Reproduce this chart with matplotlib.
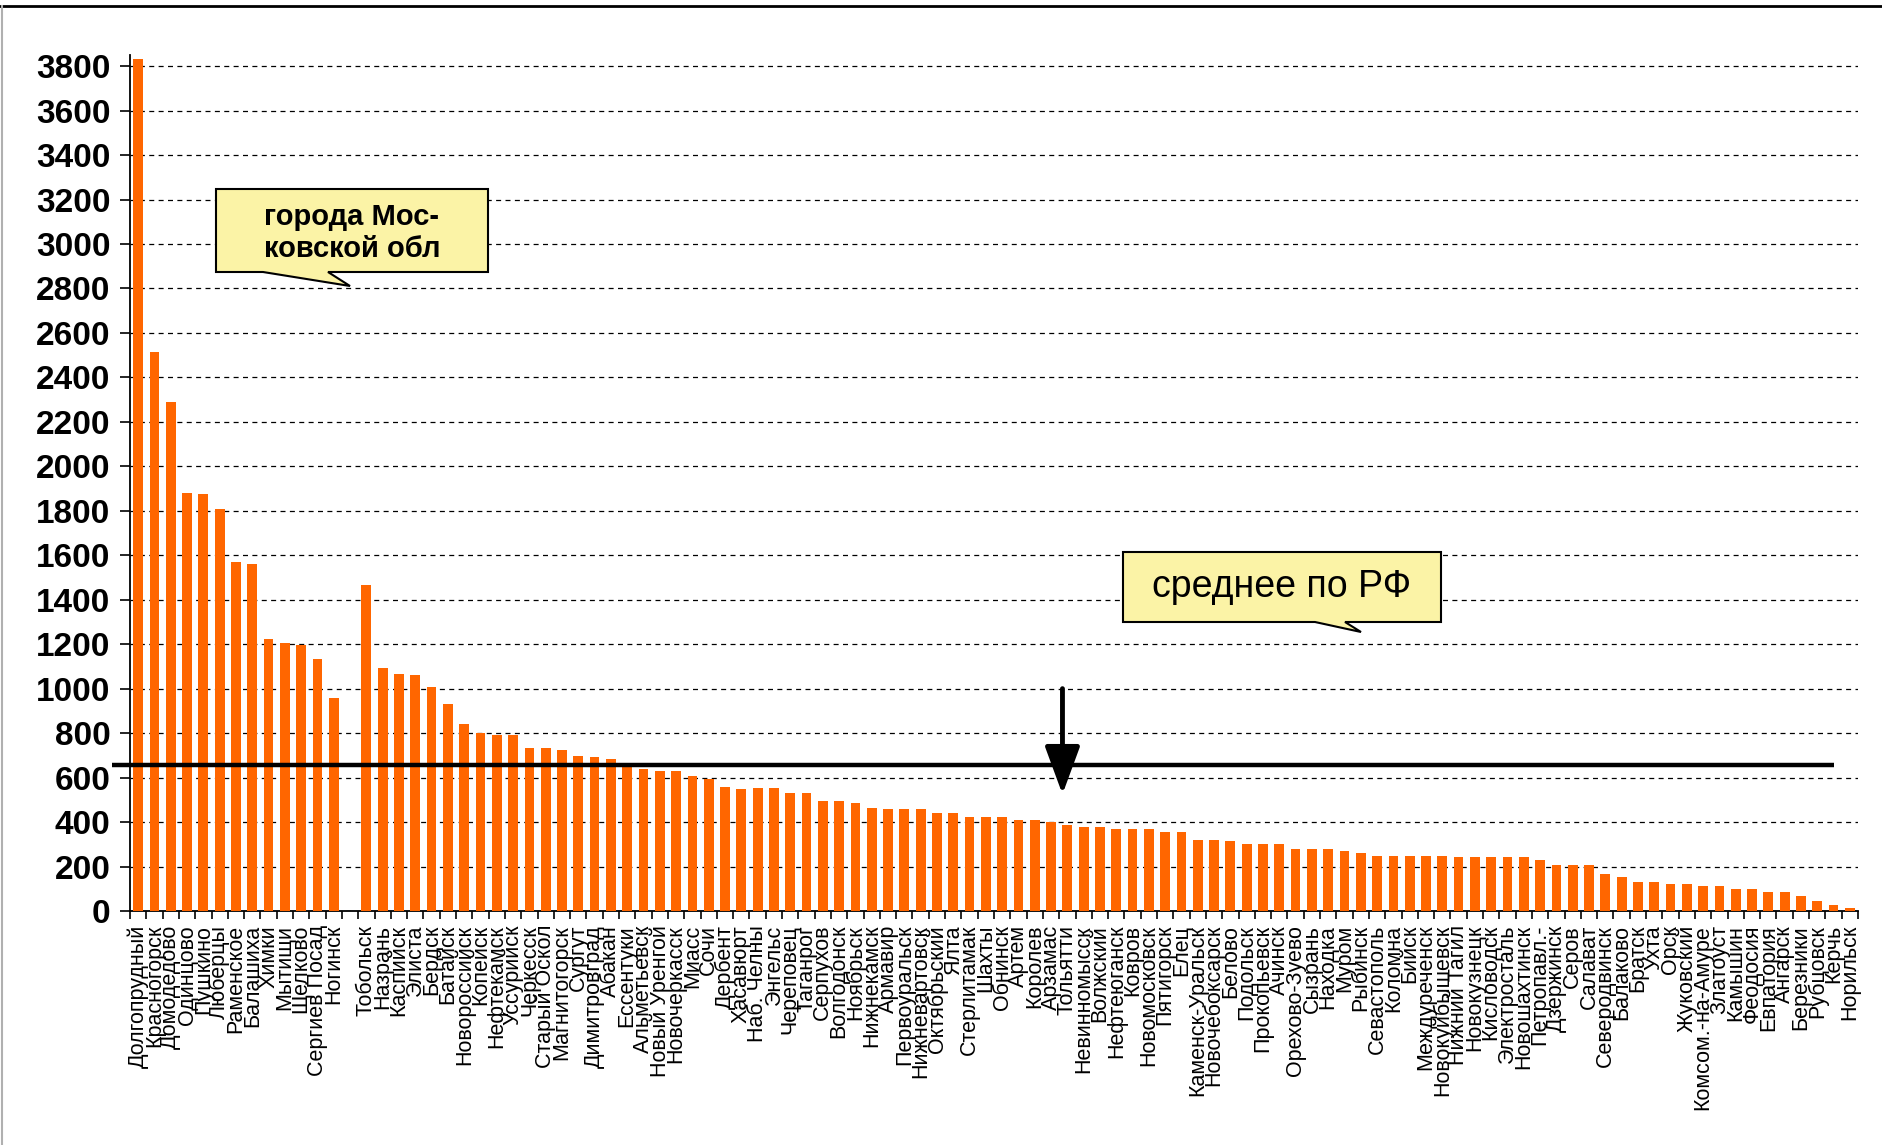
import matplotlib
matplotlib.use('Agg')
import matplotlib.pyplot as plt
from matplotlib.patches import Polygon
from matplotlib.lines import Line2D
import matplotlib.transforms as mtransforms
import numpy as np

plt.rcParams['font.family'] = ['Liberation Sans', 'DejaVu Sans']

cities = [
    "Долгопрудный", "Красногорск", "Домодедово", "Одинцово", "Пушкино", "Люберцы",
    "Раменское", "Балашиха", "Химки", "Мытищи", "Щелково", "Сергиев Посад", "Ногинск",
    "",
    "Тобольск", "Назрань", "Каспийск", "Элиста", "Бердск", "Батайск", "Новороссийск",
    "Копейск", "Нефтекамск", "Уссурийск", "Черкесск", "Старый Оскол", "Магнитогорск",
    "Сургут", "Димитровград", "Абакан", "Ессентуки", "Альметьевск", "Новый Уренгой",
    "Новочеркасск", "Миасс", "Сочи", "Дербент", "Хасавюрт", "Наб. Челны", "Энгельс",
    "Череповец", "Таганрог", "Серпухов", "Волгодонск", "Ноябрьск", "Нижнекамск",
    "Армавир", "Первоуральск", "Нижневартовск", "Октябрьский", "Ялта", "Стерлитамак",
    "Шахты", "Обнинск", "Артем", "Королев", "Арзамас", "Тольятти", "Невинномысск",
    "Волжский", "Нефтеюганск", "Ковров", "Новомосковск", "Пятигорск", "Елец",
    "Каменск-Уральск", "Новочебоксарск", "Белово", "Подольск", "Прокопьевск", "Ачинск",
    "Орехово-Зуево", "Сызрань", "Находка", "Муром", "Рыбинск", "Севастополь", "Коломна",
    "Бийск", "Междуреченск", "Новокуйбышевск", "Нижний Тагил", "Новокузнецк",
    "Кисловодск", "Электросталь", "Новошахтинск", "Петропавл.-", "Дзержинск", "Серов",
    "Салават", "Северодвинск", "Балаково", "Братск", "Ухта", "Орск", "Жуковский",
    "Комсом.-на-Амуре", "Златоуст", "Камышин", "Феодосия", "Евпатория", "Ангарск",
    "Березники", "Рубцовск", "Керчь", "Норильск",
]

values = [
    3830, 2515, 2290, 1882, 1875, 1808, 1568, 1562, 1225, 1207, 1195, 1132, 959,
    0,
    1465, 1092, 1066, 1061, 1008, 933, 843, 802, 790, 790, 734, 734, 722,
    695, 692, 682, 650, 640, 628, 628, 605, 594, 557, 550, 551, 552,
    531, 531, 496, 496, 484, 463, 457, 457, 457, 442, 442, 424,
    424, 424, 409, 409, 402, 388, 376, 376, 368, 368, 368, 356, 356,
    320, 320, 314, 301, 301, 301, 281, 281, 281, 268, 260, 248, 248,
    248, 248, 248, 241, 241, 241, 241, 241, 229, 208, 208,
    208, 168, 153, 131, 131, 120, 120, 113, 113, 101, 101, 86, 86,
    66, 45, 26, 12,
]

y_ticks = list(range(0, 3801, 200))
average_rf = 657
arrow_category = "Тольятти"
callout_moscow = "города Мос-\nковской обл"
callout_avg = "среднее по РФ"

W, H = 1883, 1145
fig = plt.figure(figsize=(W / 100, H / 100), dpi=100)
fig.patch.set_facecolor('white')

ax = fig.add_axes([130 / W, 1 - 911 / H, (1858 - 130) / W, (911 - 55) / H])
x = np.arange(len(cities))
ax.bar(x, values, width=0.6, color='#FF6600', zorder=3)

ax.set_xlim(-0.5, len(cities) - 0.5)
ax.set_ylim(0, 3850)
ax.set_yticks(y_ticks)
ax.set_yticklabels([str(v) for v in y_ticks], fontsize=24, fontweight='bold')
ax.yaxis.grid(True, linestyle=(0, (4, 3.5)), linewidth=0.9, color='black')
ax.set_axisbelow(True)

ax.set_xticks(x)
ax.set_xticklabels(cities, rotation=90, fontsize=15.5, va='top', ha='center')
ax.tick_params(axis='x', which='major', length=0, pad=10)
ax.set_xticks(np.arange(-0.5, len(cities)), minor=True)
ax.tick_params(axis='x', which='minor', length=6, width=1.2, direction='out', color='black')
ax.tick_params(axis='y', length=7, width=1.2, pad=7, color='black')
for s in ['top', 'right']:
    ax.spines[s].set_visible(False)
for s in ['left', 'bottom']:
    ax.spines[s].set_linewidth(1.3)
    ax.spines[s].set_color('black')

# average line
ax.plot([-1.6, len(cities) - 2.0], [average_rf, average_rf], color='black',
        lw=3.2, clip_on=False, zorder=5, solid_capstyle='butt')

# arrow
ai = cities.index(arrow_category) - 0.3
ax.annotate('', xy=(ai, 525), xytext=(ai, 1000),
            arrowprops=dict(arrowstyle='-|>,head_length=0.98,head_width=0.36',
                            mutation_scale=30, lw=3.5, color='black',
                            shrinkA=0, shrinkB=0), zorder=6)

# pixel-layout transform for callouts
pix = mtransforms.Affine2D().scale(1 / W, -1 / H).translate(0, 1) + fig.transFigure

c1 = [(216, 189), (488, 189), (488, 272), (328, 272), (350, 286), (263, 272), (216, 272)]
fig.add_artist(Polygon(c1, closed=True, facecolor='#FBF3A6', edgecolor='black',
                       lw=1.5, transform=pix, zorder=10))
fig.text(352, 233, callout_moscow, transform=pix, ha='center', va='center',
         fontsize=21, fontweight='bold', linespacing=1.18, zorder=11)

c2 = [(1123, 552), (1441, 552), (1441, 622), (1345, 622), (1361, 632), (1315, 622), (1123, 622)]
fig.add_artist(Polygon(c2, closed=True, facecolor='#FBF3A6', edgecolor='black',
                       lw=1.5, transform=pix, zorder=10))
fig.text(1282, 587, callout_avg, transform=pix, ha='center', va='center',
         fontsize=27, zorder=11)

# frame lines
fig.add_artist(Line2D([0, 1], [1 - 6 / H, 1 - 6 / H], transform=fig.transFigure,
                      color='black', lw=2))
fig.add_artist(Line2D([2 / W, 2 / W], [0, 1 - 6 / H], transform=fig.transFigure,
                      color='#b0b0b0', lw=1.5))

fig.savefig('out.png', dpi=100)
